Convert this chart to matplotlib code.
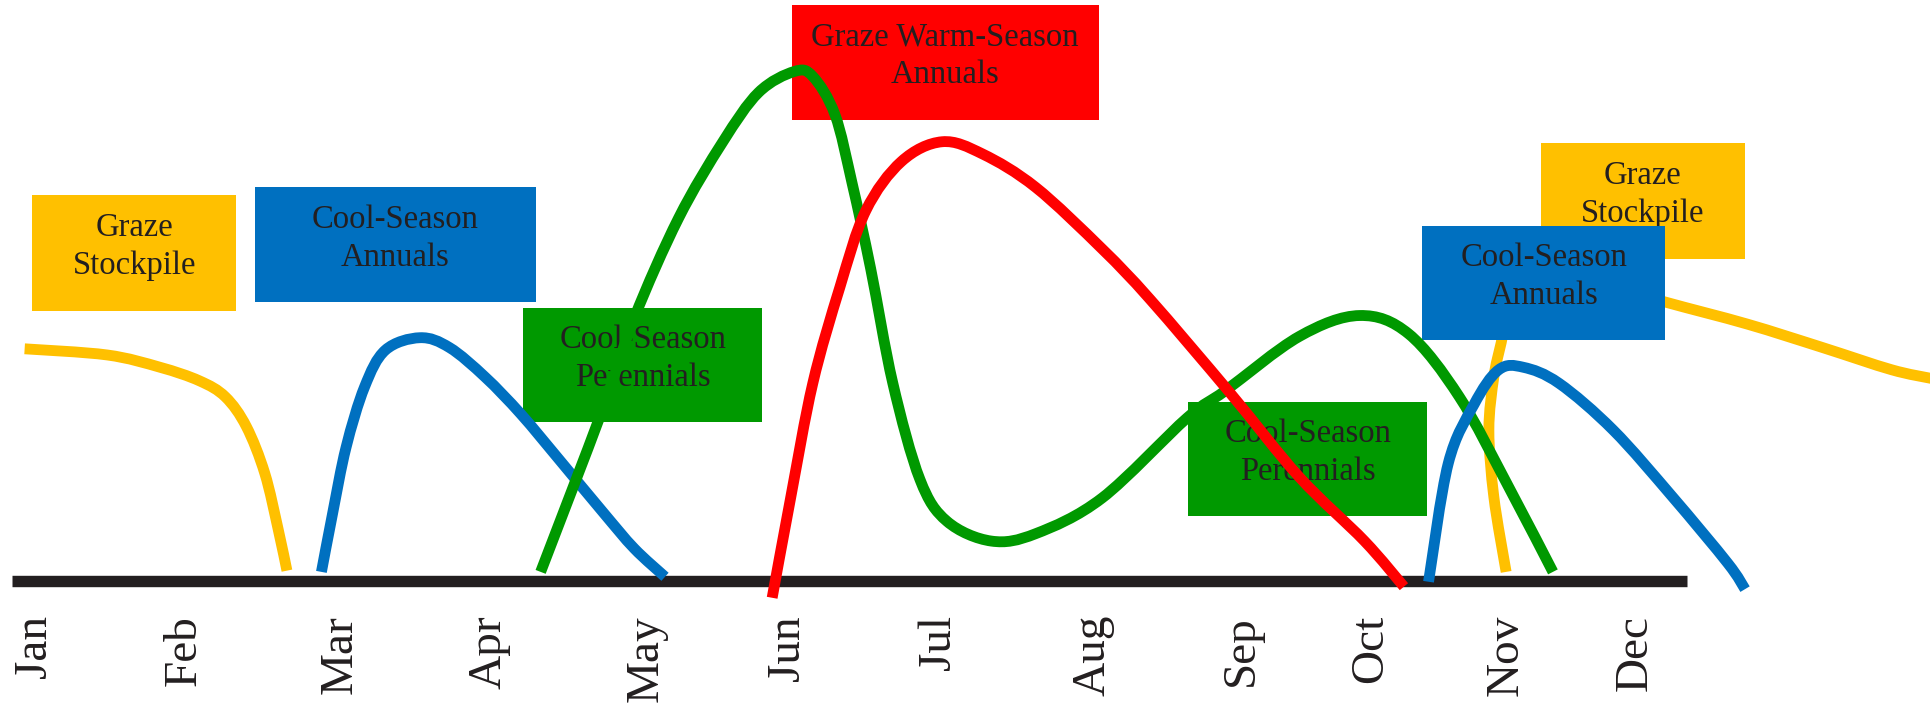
import matplotlib
matplotlib.use("Agg")
import matplotlib.pyplot as plt
from matplotlib.patches import Rectangle, PathPatch
from matplotlib.path import Path

# timeline position (x) and growth height above the baseline (y)
months = ["Jan", "Feb", "Mar", "Apr", "May", "Jun",
          "Jul", "Aug", "Sep", "Oct", "Nov", "Dec"]
month_pos = [28, 150, 276, 397, 525, 640, 762, 888, 1008, 1113, 1223, 1328]

stockpile_early_x = [20, 87, 130, 162, 183, 200, 215, 226, 233]
stockpile_early_y = [188, 183, 173, 162, 149, 125, 87, 41, 8]

cool_annual_early_x = [261, 270, 281, 296, 313, 341, 365, 394, 423, 455, 490, 515, 540]
cool_annual_early_y = [7, 54, 108, 157, 187, 197, 189, 165, 135, 97, 55, 26, 3]

cool_perennial_x = [439, 489, 515, 551, 587, 616, 645, 660, 678, 692, 707, 725,
                    747, 769, 805, 841, 895, 964, 995, 1055, 1104, 1144, 1185, 1225, 1261]
cool_perennial_y = [7, 138, 213, 294, 356, 396, 413, 409, 378, 322, 253, 160,
                    82, 48, 32, 38, 67, 132, 154, 198, 215, 200, 149, 76, 7]

warm_annual_x = [627, 642, 660, 682, 703, 732, 765, 798, 841, 895, 934, 999, 1055, 1108, 1140]
warm_annual_y = [-14, 67, 160, 238, 300, 340, 356, 346, 319, 269, 228, 152, 84, 32, -5]

cool_annual_late_x = [1160, 1176, 1197, 1217, 1237, 1266, 1310, 1358, 1403, 1417]
cool_annual_late_y = [-1, 95, 143, 171, 173, 160, 122, 68, 14, -7]

stockpile_late_x = [1223, 1213, 1209, 1213, 1219, 1228, 1250, 1300, 1352, 1419, 1480, 1536, 1568]
stockpile_late_y = [7, 68, 122, 165, 193, 231, 249, 241, 226, 208, 189, 171, 164]

# label boxes: left, right, bottom, top
box_text = ["Graze\nStockpile", "Cool-Season\nAnnuals", "Cool-Season\nPerennials",
            "Graze Warm-Season\nAnnuals", "Cool-Season\nPerennials",
            "Graze\nStockpile", "Cool-Season\nAnnuals"]
box_left = [26, 207, 425, 643, 965, 1251, 1155]
box_right = [192, 435, 619, 892, 1159, 1417, 1352]
box_bottom = [219, 226, 129, 374, 52, 261, 195]
box_top = [313, 319, 221, 467, 145, 355, 288]

YELLOW = "#FFC000"
BLUE = "#0070C0"
GREEN = "#009900"
RED = "#FF0000"
INK = "#231F20"
box_colors = [YELLOW, BLUE, GREEN, RED, GREEN, YELLOW, BLUE]

plt.rcParams["font.family"] = ["Liberation Serif", "DejaVu Serif"]


def smooth_curve(ax, xs, ys, color, z):
    # Catmull-Rom through the points, drawn as cubic bezier segments
    pts = list(zip(xs, ys))
    verts = [pts[0]]
    codes = [Path.MOVETO]
    n = len(pts)
    for i in range(n - 1):
        p0 = pts[max(i - 1, 0)]
        p1 = pts[i]
        p2 = pts[i + 1]
        p3 = pts[min(i + 2, n - 1)]
        c1 = (p1[0] + (p2[0] - p0[0]) / 6, p1[1] + (p2[1] - p0[1]) / 6)
        c2 = (p2[0] - (p3[0] - p1[0]) / 6, p2[1] - (p3[1] - p1[1]) / 6)
        verts += [c1, c2, p2]
        codes += [Path.CURVE4] * 3
    patch = PathPatch(Path(verts, codes), facecolor="none", edgecolor=color,
                      lw=7.8, capstyle="butt", joinstyle="round", zorder=z)
    ax.add_patch(patch)


fig = plt.figure(figsize=(19.31, 7.05), dpi=100)
ax = fig.add_axes([0, 0, 1, 1])
ax.set_xlim(0, 1568)
ax.set_ylim(-101, 471)
ax.axis("off")

# boxes + their text; later boxes sit on top of earlier ones
for i in range(len(box_text)):
    z = 2 + i * 0.02
    ax.add_patch(Rectangle((box_left[i], box_bottom[i]),
                           box_right[i] - box_left[i], box_top[i] - box_bottom[i],
                           facecolor=box_colors[i], edgecolor="none", zorder=z))
    ax.text((box_left[i] + box_right[i]) / 2, (box_top[i] + box_bottom[i]) / 2 + 5,
            box_text[i], ha="center", va="center", fontsize=23.5, color=INK,
            linespacing=1.3, zorder=z + 0.01)

# ground line
ax.plot([10, 1370], [0, 0], color=INK, lw=8.2, solid_capstyle="butt", zorder=2.5)

smooth_curve(ax, stockpile_late_x, stockpile_late_y, YELLOW, 1)
smooth_curve(ax, stockpile_early_x, stockpile_early_y, YELLOW, 3)
smooth_curve(ax, cool_annual_early_x, cool_annual_early_y, BLUE, 3)
smooth_curve(ax, cool_perennial_x, cool_perennial_y, GREEN, 3)
smooth_curve(ax, warm_annual_x, warm_annual_y, RED, 3.1)
smooth_curve(ax, cool_annual_late_x, cool_annual_late_y, BLUE, 3)

for m, x in zip(months, month_pos):
    ax.text(x, -28, m, rotation=90, ha="center", va="top", fontsize=34, color=INK)

fig.savefig("out.png", dpi=100)
